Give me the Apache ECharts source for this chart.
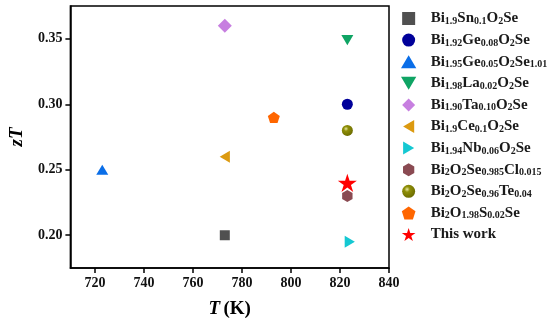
<!DOCTYPE html>
<html><head><meta charset="utf-8">
<script src="https://cdn.jsdelivr.net/npm/echarts@6/dist/echarts.min.js"></script>
<style>html,body{margin:0;padding:0;background:#fff}#c{width:550px;height:326px}</style>
</head><body><div id="c"></div>
<script>
// ---- data ----
const seriesNames = [
  'Bi1.9Sn0.1O2Se','Bi1.92Ge0.08O2Se','Bi1.95Ge0.05O2Se1.01','Bi1.98La0.02O2Se',
  'Bi1.90Ta0.10O2Se','Bi1.9Ce0.1O2Se','Bi1.94Nb0.06O2Se','Bi2O2Se0.985Cl0.015',
  'Bi2O2Se0.96Te0.04','Bi2O1.98S0.02Se','This work'
];
// rich-text label parts: [text, isSubscript]
const labelParts = [
  [['Bi',0],['1.9',1],['Sn',0],['0.1',1],['O',0],['2',1],['Se',0]],
  [['Bi',0],['1.92',1],['Ge',0],['0.08',1],['O',0],['2',1],['Se',0]],
  [['Bi',0],['1.95',1],['Ge',0],['0.05',1],['O',0],['2',1],['Se',0],['1.01',1]],
  [['Bi',0],['1.98',1],['La',0],['0.02',1],['O',0],['2',1],['Se',0]],
  [['Bi',0],['1.90',1],['Ta',0],['0.10',1],['O',0],['2',1],['Se',0]],
  [['Bi',0],['1.9',1],['Ce',0],['0.1',1],['O',0],['2',1],['Se',0]],
  [['Bi',0],['1.94',1],['Nb',0],['0.06',1],['O',0],['2',1],['Se',0]],
  [['Bi',0],['2',1],['O',0],['2',1],['Se',0],['0.985',1],['Cl',0],['0.015',1]],
  [['Bi',0],['2',1],['O',0],['2',1],['Se',0],['0.96',1],['Te',0],['0.04',1]],
  [['Bi',0],['2',1],['O',0],['1.98',1],['S',0],['0.02',1],['Se',0]],
  [['This work',0]]
];
const temperatures = [773, 823, 723, 823, 773, 773, 824, 823, 823, 793, 823];
const zTvalues     = [0.20, 0.30, 0.25, 0.349, 0.36, 0.26, 0.195, 0.23, 0.28, 0.29, 0.24];
const xTicks = [720, 740, 760, 780, 800, 820, 840];
const yTicks = [0.20, 0.25, 0.30, 0.35];

// ---- styles ----
const SQUARE = 'path://M-1,-1 L1,-1 L1,1 L-1,1 Z';
const DIAMOND = 'path://M0,-1 L1,0 L0,1 L-1,0 Z';
const TRI_UP = 'path://M0,-0.9 L1,0.8 L-1,0.8 Z';
const TRI_DOWN = 'path://M-1,-0.8 L1,-0.8 L0,0.9 Z';
const TRI_LEFT = 'path://M-0.9,0 L0.8,-1 L0.8,1 Z';
const TRI_RIGHT = 'path://M0.9,0 L-0.8,-1 L-0.8,1 Z';
const PENT = 'path://M0,-1 L0.951,-0.309 L0.588,0.809 L-0.588,0.809 L-0.951,-0.309 Z';
const HEX = 'path://M0,-1 L0.866,-0.5 L0.866,0.5 L0,1 L-0.866,0.5 L-0.866,-0.5 Z';
const STAR = 'path://M0,-1 L0.2245,-0.309 L0.951,-0.309 L0.363,0.118 L0.588,0.809 L0,0.382 L-0.588,0.809 L-0.363,0.118 L-0.951,-0.309 L-0.2245,-0.309 Z';
const olive = {type:'radial', x:0.38, y:0.35, r:0.7, colorStops:[{offset:0,color:'#e8e8a0'},{offset:0.3,color:'#8f8f08'},{offset:1,color:'#6a6a00'}]};
const styles = [
  {symbol:SQUARE, size:10, color:'#505050'},
  {symbol:'circle', size:11, color:'#00009a'},
  {symbol:TRI_UP, size:12, color:'#0a6ee8'},
  {symbol:TRI_DOWN, size:12, color:'#0fa464'},
  {symbol:DIAMOND, size:14, color:'#c77fe0'},
  {symbol:TRI_LEFT, size:12, color:'#dc9a10'},
  {symbol:TRI_RIGHT, size:12, color:'#14c8d2'},
  {symbol:HEX, size:12, color:'#8a4a52'},
  {symbol:'circle', size:11, color:olive},
  {symbol:PENT, size:12, color:'#ff6600'},
  {symbol:STAR, size:19, color:'#ff0000'}
];

const FONT = '"Liberation Serif", "Times New Roman", serif';
const series = seriesNames.map((n,i)=>({
  name:n, type:'scatter',
  symbol:styles[i].symbol, symbolSize:styles[i].size, symbolKeepAspect:true,
  itemStyle:{color:styles[i].color, opacity:1},
  data:[[temperatures[i], zTvalues[i]]]
}));

const chart = echarts.init(document.getElementById('c'));
chart.setOption({
  animation:false,
  backgroundColor:'#fff',
  grid:{left:63, right:161, top:6, bottom:58, show:true, borderColor:'#000', borderWidth:1.5},
  legend:{
    orient:'vertical', left:401, top:11, padding:0, itemWidth:34, itemHeight:13, itemGap:6.1,
    data:seriesNames,
    itemStyle:{opacity:1},
    formatter:function(name){
      const i = seriesNames.indexOf(name);
      return labelParts[i].map(p=> p[1] ? '{s|'+p[0]+'}' : '{b|'+p[0]+'}').join('');
    },
    textStyle:{
      color:'#1a1a1a',
      rich:{
        b:{fontFamily:FONT, fontWeight:'bold', fontSize:15, lineHeight:16, color:'#1a1a1a'},
        s:{fontFamily:FONT, fontWeight:'bold', fontSize:10, lineHeight:7, verticalAlign:'bottom', color:'#1a1a1a'}
      }
    }
  },
  xAxis:{
    type:'value', min:710, max:840,
    name:'{i|T} {n|(K)}', nameLocation:'middle', nameGap:32,
    nameTextStyle:{rich:{
      i:{fontFamily:FONT, fontStyle:'italic', fontWeight:'bold', fontSize:19, color:'#000'},
      n:{fontFamily:FONT, fontWeight:'bold', fontSize:19, color:'#000'}
    }},
    axisLine:{lineStyle:{color:'#000', width:1.5}},
    axisTick:{show:true, length:5, lineStyle:{color:'#000', width:1.5}, customValues:xTicks},
    axisLabel:{customValues:xTicks, fontFamily:FONT, fontWeight:'bold', fontSize:14, color:'#111', margin:8},
    splitLine:{show:false}
  },
  yAxis:{
    type:'value', min:0.175, max:0.375,
    name:'zT', nameLocation:'middle', nameGap:42,
    nameTextStyle:{fontFamily:FONT, fontStyle:'italic', fontWeight:'bold', fontSize:19, color:'#000'},
    axisLine:{show:true, lineStyle:{color:'#000', width:1.5}},
    axisTick:{show:true, length:5, lineStyle:{color:'#000', width:1.5}, customValues:yTicks},
    axisLabel:{customValues:yTicks, formatter:v=>v.toFixed(2), fontFamily:FONT, fontWeight:'bold', fontSize:14, color:'#111', margin:8},
    splitLine:{show:false}
  },
  series:series
});
</script></body></html>
